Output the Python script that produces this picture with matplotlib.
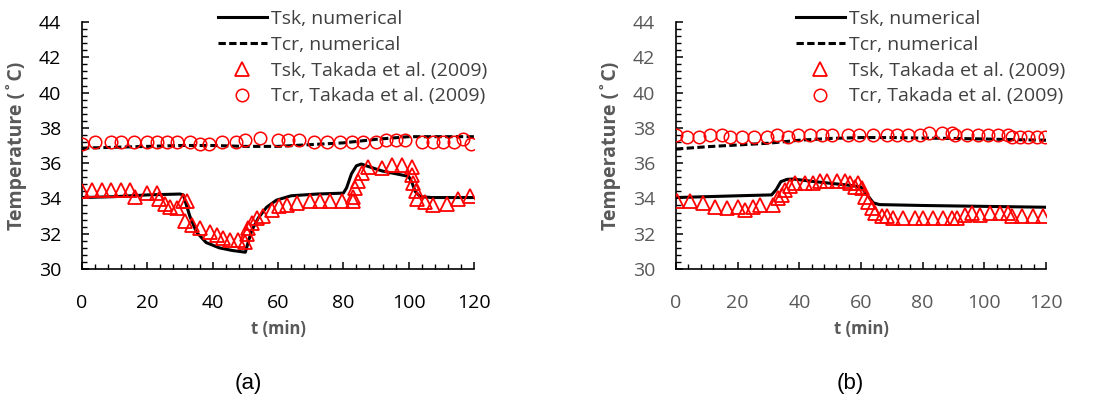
import numpy as np
import matplotlib
matplotlib.use('Agg')
import matplotlib.pyplot as plt
from matplotlib.ticker import MultipleLocator

plt.rcParams['font.family'] = ['Open Sans', 'DejaVu Sans']

# ---- panel (a) ----
# numerical Tsk
ta_sk = [0, 10, 20, 30, 31, 33, 35, 38, 42, 46, 50, 51, 52, 54, 56.5, 59.5, 64, 72, 80, 81, 82.5, 84, 85.5,
         87, 92, 100, 101, 102, 103.5, 107, 120]
Ta_sk = [34.05, 34.1, 34.2, 34.25, 34.2, 33.0, 32.1, 31.5, 31.2, 31.05, 30.95, 31.6, 32.2, 32.9, 33.5, 33.9,
         34.15, 34.25, 34.3, 34.6, 35.4, 35.85, 35.95, 35.85, 35.55, 35.25, 34.9, 34.4, 34.1, 34.05, 34.05]
# numerical Tcr
ta_cr = [0, 10, 20, 30, 40, 50, 60, 70, 80, 90, 100, 110, 120]
Ta_cr = [36.85, 36.9, 36.95, 37.0, 37.0, 36.95, 36.95, 37.05, 37.15, 37.35, 37.5, 37.5, 37.5]
# Takada et al. (2009) Tsk
ta_sk_exp = [0, 3, 6, 9, 12, 14.7, 16.2, 19.8, 22.9, 23.7, 25.4, 26.9, 29, 30.8, 32, 31.5, 33.6, 36.1, 39.2,
             41.2, 43.3, 45.3, 47.9, 49.9, 50.4, 50.9, 51.9, 53.5, 55.5, 58.1, 60.4, 62.7, 65.7, 69.8, 72.9,
             75.9, 79.5, 83.1, 82.9, 83.6, 84.6, 85.6, 87.7, 91.7, 94.8, 97.9, 100.9, 100.9, 101.4, 102.2,
             102.4, 105, 107.6, 111.6, 115.2, 118.8]
Ta_sk_exp = [34.4, 34.5, 34.5, 34.45, 34.45, 34.45, 34.1, 34.3, 34.3, 33.97, 33.7, 33.5, 33.45, 33.85, 33.85,
             32.7, 32.5, 32.3, 32.1, 31.95, 31.75, 31.65, 31.65, 31.55, 32.0, 32.3, 32.6, 32.9, 33.0, 33.35,
             33.55, 33.65, 33.75, 33.85, 33.85, 33.85, 33.85, 33.85, 34.1, 34.6, 34.97, 35.45, 35.8, 35.7,
             35.9, 35.9, 35.8, 35.35, 34.9, 34.4, 33.95, 33.8, 33.65, 33.7, 33.95, 34.15]
# Takada et al. (2009) Tcr
ta_cr_exp = [0, 4, 9, 12, 16, 20, 23, 26, 29, 33, 36, 39, 43, 47, 50, 54.5, 60, 63, 66.5, 71, 75, 79, 82.5,
             86, 90, 93, 96, 99, 104, 107.5, 110.5, 114, 116.5, 119]
Ta_cr_exp = [37.1, 37.2, 37.2, 37.2, 37.2, 37.2, 37.2, 37.2, 37.2, 37.2, 37.1, 37.1, 37.2, 37.2, 37.3, 37.4,
             37.3, 37.3, 37.3, 37.2, 37.2, 37.2, 37.2, 37.2, 37.2, 37.3, 37.3, 37.3, 37.2, 37.2, 37.2, 37.2,
             37.35, 37.1]

# ---- panel (b) ----
tb_sk = [0, 10, 20, 31, 32.5, 34, 36, 38, 45, 56, 60, 62, 64, 66, 80, 100, 120]
Tb_sk = [34.05, 34.1, 34.15, 34.2, 34.5, 34.95, 35.08, 35.1, 34.95, 34.75, 34.65, 34.2, 33.75, 33.65, 33.6,
         33.55, 33.5]
tb_cr = [0, 10, 20, 30, 40, 50, 60, 70, 80, 90, 100, 110, 120]
Tb_cr = [36.8, 36.93, 37.03, 37.13, 37.3, 37.4, 37.45, 37.45, 37.42, 37.4, 37.37, 37.33, 37.3]
tb_sk_exp = [0.2, 4.5, 8.9, 12.6, 16.4, 20.2, 22.4, 25.1, 27.2, 31.6, 33.2, 34.3, 35.4, 37, 38.6, 41.8, 44.5,
             46.7, 48.9, 52.1, 54.8, 56.4, 58.1, 59.1, 60.2, 61.3, 62.4, 63.5, 64.5, 66.7, 68.3, 70.5, 73.7,
             77.5, 80.2, 83.5, 86.7, 89.4, 91, 93.7, 95.9, 98.6, 101.8, 105.1, 107.8, 108.9, 112.1, 115.9, 119.1]
Tb_sk_exp = [33.86, 33.86, 33.73, 33.54, 33.45, 33.54, 33.35, 33.54, 33.64, 33.64, 34.0, 34.2, 34.48, 34.7,
             34.86, 34.9, 34.86, 34.96, 34.96, 34.96, 34.96, 34.86, 34.67, 34.86, 34.58, 34.1, 33.82, 33.45,
             33.17, 32.98, 33.0, 32.88, 32.88, 32.88, 32.88, 32.88, 32.88, 32.88, 32.88, 33.07, 33.17, 33.07,
             33.17, 33.17, 33.17, 32.98, 32.98, 32.98, 32.98]
tb_cr_exp = [0, 3.5, 7.6, 11, 14.8, 17.5, 21.3, 25.3, 29.4, 32.9, 36.4, 39.7, 43.5, 47.2, 50.5, 55.9, 59.5,
             64, 68.3, 71.6, 75.4, 79.1, 82.2, 86.2, 89.4, 90.5, 94.3, 98.1, 101.3, 104.5, 107.8, 108.9,
             111.6, 114.3, 117, 119.7]
Tb_cr_exp = [37.59, 37.5, 37.5, 37.59, 37.59, 37.5, 37.5, 37.5, 37.5, 37.59, 37.5, 37.59, 37.59, 37.59,
             37.59, 37.59, 37.59, 37.59, 37.59, 37.59, 37.59, 37.59, 37.73, 37.73, 37.69, 37.59, 37.59, 37.59,
             37.59, 37.59, 37.59, 37.5, 37.5, 37.5, 37.5, 37.5]

labels = ['Tsk, numerical', 'Tcr, numerical', 'Tsk, Takada et al. (2009)', 'Tcr, Takada et al. (2009)']
grey = '#595959'

fig = plt.figure(figsize=(10.93, 4.05), dpi=100)
W, H = 1093, 405

panels = [
    (82, 474, ta_sk, Ta_sk, ta_cr, Ta_cr, ta_sk_exp, Ta_sk_exp, ta_cr_exp, Ta_cr_exp, 'black', 218, '(a)', 248),
    (676, 1046, tb_sk, Tb_sk, tb_cr, Tb_cr, tb_sk_exp, Tb_sk_exp, tb_cr_exp, Tb_cr_exp, grey, 796, '(b)', 850),
]

for (x0, x1, t1, y1, t2, y2, t3, y3, t4, y4, tickcol, legx, tag, tagx) in panels:
    ax = fig.add_axes([x0 / W, 1 - 269 / H, (x1 - x0) / W, (269 - 22) / H])
    ax.plot(t1, y1, color='black', lw=2.2, label=labels[0], zorder=2)
    ax.plot(t2, y2, color='black', lw=2.2, ls=(0, (2.4, 1.1)), label=labels[1], zorder=2)
    ax.plot(t3, y3, ls='none', marker='^', ms=9.5, mfc='none', mec='red', mew=1.3, label=labels[2], zorder=3)
    ax.plot(t4, y4, ls='none', marker='o', ms=9, mfc='none', mec='red', mew=1.1, label=labels[3], zorder=3)

    ax.set_xlim(0, 120)
    ax.set_ylim(30, 44)
    ax.xaxis.set_major_locator(MultipleLocator(20))
    ax.xaxis.set_minor_locator(MultipleLocator(4))
    ax.yaxis.set_major_locator(MultipleLocator(2))
    ax.yaxis.set_minor_locator(MultipleLocator(0.4))
    for s in ['top', 'right']:
        ax.spines[s].set_visible(False)
    for s in ['left', 'bottom']:
        ax.spines[s].set_linewidth(1.2)
    ax.tick_params(which='major', direction='in', length=5, width=1.1, labelsize=14, labelcolor=tickcol)
    ax.tick_params(which='minor', direction='in', length=3.5, width=1.0)
    ax.tick_params(axis='y', which='major', pad=15)
    ax.tick_params(axis='x', which='major', pad=18)

    ax.set_ylabel('Temperature (˚C)', fontsize=14, fontweight='bold', color=grey)
    ax.yaxis.set_label_coords(-55 / (x1 - x0), 0.5)
    ax.set_xlabel('t (min)', fontsize=12, fontweight='bold', color=grey)
    ax.xaxis.set_label_coords(0.5, -(320 - 269) / (269 - 22))

    leg = ax.legend(loc='upper left', bbox_to_anchor=(legx / W, 1 - 10 / H), bbox_transform=fig.transFigure,
                    frameon=False, fontsize=14, handlelength=2.5, handletextpad=0.25, labelspacing=0.4,
                    borderpad=0, borderaxespad=0, markerfirst=True)
    for txt in leg.get_texts():
        txt.set_color('#404040')

    fig.text(tagx / W, 1 - 383 / H, tag, ha='center', va='center', fontsize=16,
             family=['Liberation Sans', 'DejaVu Sans'])

fig.savefig('out.png', dpi=100)
